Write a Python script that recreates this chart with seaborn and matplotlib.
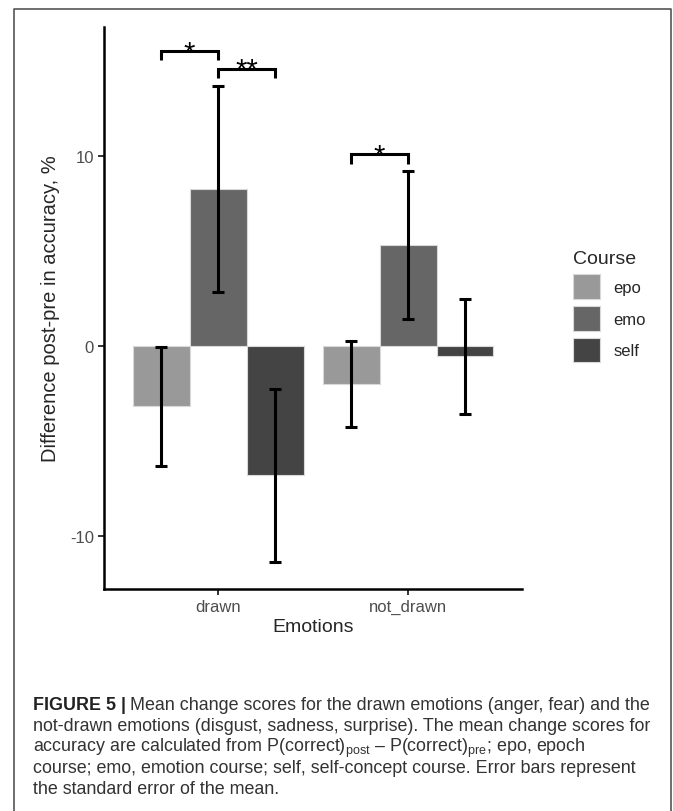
import numpy as np
import pandas as pd
import seaborn as sns
import matplotlib.pyplot as plt
from matplotlib.lines import Line2D

# Values (mean change in %, standard error)
emotions = ["drawn", "not_drawn"]
courses = ["epo", "emo", "self"]
epo_mean = [-3.17, -1.98]
emo_mean = [8.25, 5.30]
self_mean = [-6.80, -0.54]
epo_se = [3.12, 2.25]
emo_se = [5.42, 3.88]
self_se = [4.53, 3.02]
course_colors = ["#999999", "#666666", "#444444"]
y_ticks = [-10, 0, 10]

# significance brackets: emotion group, course from, course to, height, label
sig_emotion = ["drawn", "drawn", "not_drawn"]
sig_from = ["epo", "emo", "epo"]
sig_to = ["emo", "self", "emo"]
sig_height = [15.5, 14.57, 10.07]
sig_label = ["*", "**", "*"]

caption_lines = [
    "not-drawn emotions (disgust, sadness, surprise). The mean change scores for",
    r"accuracy are calculated from P(correct)$_{\mathrm{post}}$ – P(correct)$_{\mathrm{pre}}$; epo, epoch",
    "course; emo, emotion course; self, self-concept course. Error bars represent",
    "the standard error of the mean.",
]

sns.set_style("ticks")
plt.rcParams["font.family"] = ["Liberation Sans", "DejaVu Sans"]
plt.rcParams["mathtext.fontset"] = "custom"
plt.rcParams["mathtext.rm"] = "Liberation Sans"
plt.rcParams["axes.unicode_minus"] = False

df = pd.DataFrame({
    "Emotions": emotions * 3,
    "Course": np.repeat(courses, len(emotions)),
    "change": epo_mean + emo_mean + self_mean,
    "se": epo_se + emo_se + self_se,
})

W, H = 673, 812
fig = plt.figure(figsize=(W / 100, H / 100), dpi=100)
ax = fig.add_axes([104 / W, 1 - 590 / H, (522 - 104) / W, (590 - 28) / H])

sns.barplot(data=df, x="Emotions", y="change", hue="Course",
            order=emotions, hue_order=courses, palette=course_colors,
            width=0.9, errorbar=None, edgecolor="#d9d9d9", linewidth=0.8,
            saturation=1, ax=ax)

# error bars on the bar centres
centers = {}
for container, course in zip(ax.containers, courses):
    sub = df[df["Course"] == course].set_index("Emotions").loc[emotions]
    for bar, emo in zip(container, emotions):
        x = bar.get_x() + bar.get_width() / 2
        centers[(emo, course)] = x
        ax.errorbar(x, sub.loc[emo, "change"], yerr=sub.loc[emo, "se"],
                    fmt="none", ecolor="black", elinewidth=2.2,
                    capsize=4.3, capthick=2.2, zorder=5)

# significance brackets
star_size = 21
for e, a, b, h, lab in zip(sig_emotion, sig_from, sig_to, sig_height, sig_label):
    x1, x2 = centers[(e, a)], centers[(e, b)]
    ax.plot([x1, x1, x2, x2], [h - 0.5, h, h, h - 0.5], color="black",
            lw=2.2, solid_joinstyle="miter", solid_capstyle="butt",
            clip_on=False, zorder=6)
    ax.text((x1 + x2) / 2, h - 0.5, lab, ha="center", va="baseline",
            fontsize=star_size, color="black", zorder=7)

ax.set_xlim(-0.6, 1.6)
ax.set_ylim(-12.76, 16.75)
ax.set_yticks(y_ticks)
ax.set_yticklabels([str(t) for t in y_ticks])
sns.despine(ax=ax)
for side in ["left", "bottom"]:
    ax.spines[side].set_linewidth(1.8)
    ax.spines[side].set_color("black")
ax.tick_params(axis="both", length=4.3, width=1.4, color="#333333",
               labelcolor="#4d4d4d", labelsize=12, pad=3)
ax.set_xlabel("Emotions", fontsize=14, labelpad=3)
ax.set_ylabel("Difference post-pre in accuracy, %", fontsize=14.5, labelpad=7)

sns.move_legend(ax, loc="upper left", bbox_to_anchor=(565 / W, 1 - 243 / H),
                bbox_transform=fig.transFigure, frameon=False, title="Course",
                fontsize=12, title_fontsize=14, handlelength=1.6,
                handleheight=1.9, labelspacing=0.42, handletextpad=0.8,
                borderpad=0, alignment="left")

# frame around the figure (open at the bottom)
fig.add_artist(Line2D([14 / W, 14 / W, 671 / W, 671 / W], [0, 1 - 10 / H, 1 - 10 / H, 0],
                      transform=fig.transFigure, color="#555555", lw=1.2))

# caption
cap_size = 12.9
cap_x = 33 / W
line_step = 21 / H
y0 = 1 - 706 / H
bold = fig.text(cap_x, y0, "FIGURE 5 |", fontsize=cap_size, fontweight="bold",
                color="#222222", va="center")
renderer = fig.canvas.get_renderer()
bb = bold.get_window_extent(renderer)
fig.text(bb.x1 / W + 4 / W, y0,
         "Mean change scores for the drawn emotions (anger, fear) and the",
         fontsize=cap_size, color="#333333", va="center")
for i, line in enumerate(caption_lines, start=1):
    fig.text(cap_x, y0 - i * line_step, line, fontsize=cap_size,
             color="#333333", va="center")

fig.savefig("out.png", dpi=100)
